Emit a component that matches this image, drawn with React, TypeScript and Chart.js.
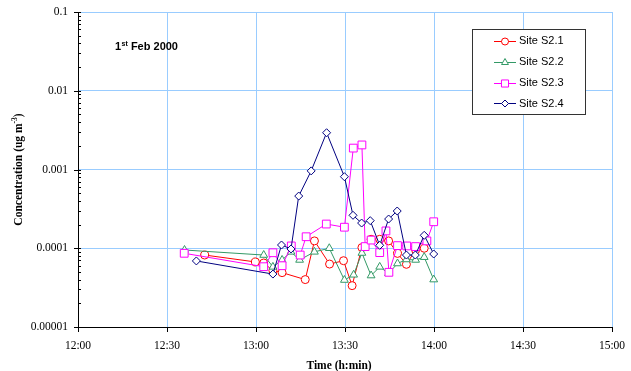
import React, { useEffect, useRef } from 'react';
import { Chart, registerables } from 'chart.js';

Chart.register(...registerables);

// ---- data (time in minutes after 12:00, concentration in ug m-3) ----
const xTickLabels = ['12:00', '12:30', '13:00', '13:30', '14:00', '14:30', '15:00'];
const yTickLabels = ['0.00001', '0.0001', '0.001', '0.01', '0.1'];
const seriesNames = ['Site S2.1', 'Site S2.2', 'Site S2.3', 'Site S2.4'];

const s21Time = [42.7, 59.8, 62.6, 65.7, 68.8, 76.6, 79.7, 84.8, 89.5, 92.4, 95.7, 98.8, 101.7, 104.7, 107.7, 110.7, 113.8, 116.7];
const s21Conc = [8.2e-5, 6.7e-5, 6.5e-5, 5.2e-5, 4.9e-5, 4.0e-5, 1.24e-4, 6.3e-5, 6.95e-5, 3.35e-5, 1.02e-4, 1.3e-4, 1.3e-4, 1.24e-4, 8.6e-5, 6.25e-5, 9.5e-5, 1.0e-4];

const s22Time = [35.9, 62.6, 65.7, 68.8, 71.8, 74.7, 79.7, 84.7, 89.8, 92.9, 95.7, 98.8, 101.7, 104.7, 107.7, 110.7, 113.8, 116.7, 119.9];
const s22Conc = [9.5e-5, 8.2e-5, 5.8e-5, 7.1e-5, 9.0e-5, 7.1e-5, 9.0e-5, 1.0e-4, 3.95e-5, 4.6e-5, 8.7e-5, 4.5e-5, 5.8e-5, 4.8e-5, 6.4e-5, 7.2e-5, 7.1e-5, 7.7e-5, 4.0e-5];

const s23Time = [35.8, 62.6, 65.7, 68.8, 71.9, 74.9, 76.9, 83.7, 89.8, 92.8, 95.7, 96.8, 98.8, 101.7, 103.8, 104.8, 107.7, 110.8, 113.8, 117.6, 119.9];
const s23Conc = [8.63e-5, 5.83e-5, 8.77e-5, 6.0e-5, 1.07e-4, 8.2e-5, 1.4e-4, 2.03e-4, 1.85e-4, 1.87e-3, 2.05e-3, 1.05e-4, 1.27e-4, 8.8e-5, 1.66e-4, 4.95e-5, 1.08e-4, 1.07e-4, 1.05e-4, 1.24e-4, 2.17e-4];

const s24Time = [39.9, 65.7, 68.6, 71.8, 74.4, 78.6, 83.8, 89.8, 92.7, 95.6, 98.5, 101.7, 104.7, 107.6, 110.7, 113.7, 116.7, 119.9];
const s24Conc = [6.9e-5, 4.7e-5, 1.1e-4, 9.8e-5, 4.6e-4, 9.6e-4, 2.93e-3, 8.1e-4, 2.62e-4, 2.09e-4, 2.24e-4, 1.09e-4, 2.35e-4, 2.97e-4, 8.2e-5, 8.2e-5, 1.46e-4, 8.45e-5];

const seriesTimes = [s21Time, s22Time, s23Time, s24Time];
const seriesConcs = [s21Conc, s22Conc, s23Conc, s24Conc];
const seriesColors = ['#FF0000', '#339966', '#FF00FF', '#000080'];
const seriesShapes = ['circle', 'triangle', 'rect', 'rectRot'];
const seriesRadius = [4, 4.5, 5.5, 4];

const GRID = '#99CCFF';
const SERIF = '"Liberation Serif", "Times New Roman", serif';
const SANS = '"Liberation Sans", Arial, sans-serif';

function isDecade(v: number) {
  if (!v || v <= 0) return false;
  const e = Math.log10(v);
  return Math.abs(e - Math.round(e)) < 1e-6;
}

function drawMarker(ctx: CanvasRenderingContext2D, shape: string, x: number, y: number, r: number, color: string) {
  ctx.save();
  ctx.beginPath();
  if (shape === 'circle') {
    ctx.arc(x, y, r, 0, Math.PI * 2);
  } else if (shape === 'triangle') {
    let rad = 0;
    ctx.moveTo(x + Math.sin(rad) * r, y - Math.cos(rad) * r);
    rad += (2 * Math.PI) / 3;
    ctx.lineTo(x + Math.sin(rad) * r, y - Math.cos(rad) * r);
    rad += (2 * Math.PI) / 3;
    ctx.lineTo(x + Math.sin(rad) * r, y - Math.cos(rad) * r);
    ctx.closePath();
  } else if (shape === 'rect') {
    const s = Math.SQRT1_2 * r;
    ctx.rect(x - s, y - s, 2 * s, 2 * s);
  } else {
    ctx.moveTo(x - r, y);
    ctx.lineTo(x, y - r);
    ctx.lineTo(x + r, y);
    ctx.lineTo(x, y + r);
    ctx.closePath();
  }
  ctx.fillStyle = '#FFFFFF';
  ctx.fill();
  ctx.lineWidth = 1;
  ctx.strokeStyle = color;
  ctx.stroke();
  ctx.restore();
}

const decorPlugin = {
  id: 'decor',
  afterDraw(chart: any) {
    const ctx: CanvasRenderingContext2D = chart.ctx;
    const xs = chart.scales.x;
    const ys = chart.scales.y;
    const area = chart.chartArea;
    ctx.save();

    // y-axis tick marks (major + minor)
    ctx.strokeStyle = '#000';
    ctx.lineWidth = 1;
    for (let e = -5; e <= -1; e++) {
      for (let m = 1; m <= 9; m++) {
        const v = m * Math.pow(10, e);
        if (v > 0.1 + 1e-12) break;
        const py = Math.round(ys.getPixelForValue(v)) + 0.5;
        ctx.beginPath();
        if (m === 1) {
          ctx.moveTo(area.left - 4, py);
          ctx.lineTo(area.left + 3, py);
        } else {
          ctx.moveTo(area.left, py);
          ctx.lineTo(area.left + 3, py);
        }
        ctx.stroke();
      }
    }

    // y-axis title (rotated, with superscript)
    ctx.fillStyle = '#000';
    ctx.save();
    const tcx = 19;
    const tcy = (area.top + area.bottom) / 2;
    ctx.translate(tcx, tcy);
    ctx.rotate(-Math.PI / 2);
    const mainFont = 'bold 11.5px ' + SERIF;
    const supFont = 'bold 7.5px ' + SERIF;
    const p1 = 'Concentration (ug m';
    const p2 = '-3';
    const p3 = ')';
    ctx.font = mainFont;
    const w1 = ctx.measureText(p1).width;
    const w3 = ctx.measureText(p3).width;
    ctx.font = supFont;
    const w2 = ctx.measureText(p2).width;
    const total = w1 + w2 + w3;
    let cx = -total / 2;
    ctx.textBaseline = 'middle';
    ctx.textAlign = 'left';
    ctx.font = mainFont;
    ctx.fillText(p1, cx, 0);
    cx += w1;
    ctx.font = supFont;
    ctx.fillText(p2, cx, -4);
    cx += w2;
    ctx.font = mainFont;
    ctx.fillText(p3, cx, 0);
    ctx.restore();

    // x-axis title
    ctx.font = 'bold 11.5px ' + SERIF;
    ctx.textAlign = 'center';
    ctx.textBaseline = 'middle';
    ctx.fillText('Time (h:min)', xs.getPixelForValue(88), 366);

    // annotation "1st Feb 2000"
    ctx.textAlign = 'left';
    ctx.textBaseline = 'alphabetic';
    let ax = 115;
    const ay = 50;
    ctx.font = 'bold 11px ' + SANS;
    ctx.fillText('1', ax, ay);
    ax += ctx.measureText('1').width + 0.5;
    ctx.font = 'bold 7px ' + SANS;
    ctx.fillText('st', ax, ay - 4.5);
    ax += ctx.measureText('st').width;
    ctx.font = 'bold 11px ' + SANS;
    ctx.fillText(' Feb 2000', ax, ay);

    // legend box
    const lx = 472.5, ly = 29.5, lw = 113, lh = 85;
    ctx.fillStyle = '#FFFFFF';
    ctx.fillRect(lx, ly, lw, lh);
    ctx.strokeStyle = '#333333';
    ctx.lineWidth = 1;
    ctx.strokeRect(lx, ly, lw, lh);
    for (let i = 0; i < seriesNames.length; i++) {
      const ry = 40.7 + i * 20.9;
      const col = seriesColors[i];
      ctx.beginPath();
      ctx.strokeStyle = col;
      ctx.moveTo(494, Math.round(ry) + 0.5);
      ctx.lineTo(516, Math.round(ry) + 0.5);
      ctx.stroke();
      drawMarker(ctx, seriesShapes[i], 505, Math.round(ry) + 0.5, seriesRadius[i] - 0.5, col);
      ctx.fillStyle = '#000';
      ctx.font = '11px ' + SANS;
      ctx.textAlign = 'left';
      ctx.textBaseline = 'middle';
      ctx.fillText(seriesNames[i], 519, ry + 0.5);
    }
    ctx.restore();
  },
};

export default function App() {
  const ref = useRef<HTMLCanvasElement>(null);
  useEffect(() => {
    if (!ref.current) return;
    const datasets = seriesNames.map((name, i) => ({
      label: name,
      data: seriesTimes[i].map((t, j) => ({ x: t, y: seriesConcs[i][j] })),
      borderColor: seriesColors[i],
      backgroundColor: '#FFFFFF',
      borderWidth: 1,
      pointStyle: seriesShapes[i] as any,
      pointRadius: seriesRadius[i],
      pointBorderWidth: 1,
      pointBackgroundColor: '#FFFFFF',
      pointBorderColor: seriesColors[i],
      tension: 0,
      fill: false,
      order: 3 - i,
    }));
    const chart = new Chart(ref.current, {
      type: 'line',
      data: { datasets },
      options: {
        responsive: false,
        animation: false,
        devicePixelRatio: 1,
        layout: { padding: { left: 0, right: 19, top: 12, bottom: 0 } },
        plugins: {
          legend: { display: false },
          tooltip: { enabled: false },
          title: { display: false },
        },
        scales: {
          x: {
            type: 'linear',
            min: 0,
            max: 180,
            afterFit: (s: any) => { s.height = 44; s.paddingLeft = 0; s.paddingRight = 0; },
            ticks: {
              stepSize: 30,
              padding: 7,
              color: '#000',
              font: { family: SERIF, size: 11.5 },
              maxRotation: 0,
              callback: (v: any) => xTickLabels[Math.round(Number(v) / 30)] ?? '',
            },
            grid: {
              color: GRID,
              lineWidth: 1,
              drawTicks: true,
              tickLength: 5,
              tickColor: '#000',
            },
            border: { display: true, color: '#000', width: 1 },
          },
          y: {
            type: 'logarithmic',
            min: 1e-5,
            max: 0.1,
            afterFit: (s: any) => { s.width = 78; s.paddingTop = 0; s.paddingBottom = 0; },
            ticks: {
              autoSkip: false,
              padding: 10,
              color: '#000',
              font: { family: SERIF, size: 11.5 },
              callback: (v: any) => {
                const n = Number(v);
                if (!isDecade(n)) return '';
                const e = Math.round(Math.log10(n));
                return yTickLabels[e + 5] ?? '';
              },
            },
            grid: {
              color: (c: any) => (c.tick && isDecade(c.tick.value) ? GRID : 'rgba(0,0,0,0)'),
              lineWidth: 1,
              drawTicks: false,
            },
            border: { display: true, color: '#000', width: 1 },
          },
        },
      },
      plugins: [decorPlugin],
    });
    return () => chart.destroy();
  }, []);
  return (
    <div style={{ position: 'fixed', left: 0, top: 0, width: 631, height: 371, background: '#fff' }}>
      <canvas ref={ref} width={631} height={371} style={{ display: 'block' }} />
    </div>
  );
}
